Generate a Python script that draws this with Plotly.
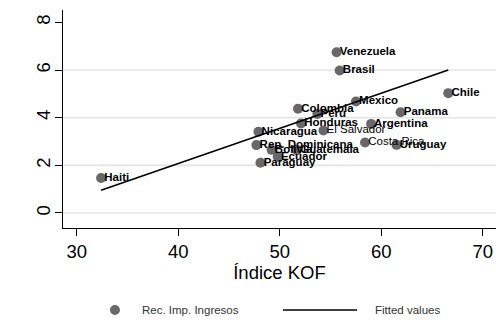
import plotly.graph_objects as go

countries = ["Haiti", "Venezuela", "Brasil", "Chile", "Mexico", "Panama", "Colombia",
             "Peru", "Honduras", "Argentina", "El Salvador", "Nicaragua",
             "Rep. Dominicana", "Costa Rica", "Uruguay", "Bolivia", "Guatemala",
             "Ecuador", "Paraguay"]
kof = [32.4, 55.6, 55.9, 66.6, 57.5, 61.9, 51.8, 53.7, 52.1, 59.0, 54.3, 47.9,
       47.7, 58.4, 61.5, 49.2, 51.7, 49.8, 48.1]
rec = [1.47, 6.75, 5.98, 5.03, 4.68, 4.23, 4.38, 4.16, 3.76, 3.74, 3.46, 3.41,
       2.85, 2.96, 2.86, 2.65, 2.64, 2.36, 2.11]
fit_x = [32.4, 66.6]
fit_y = [0.95, 6.0]
x_ticks = [30, 40, 50, 60, 70]
y_ticks = [0, 2, 4, 6, 8]
grid_y = [0, 2, 4, 6]
legend_names = ["Rec. Imp. Ingresos", "Fitted values"]

FONT = "Liberation Sans, Arial, sans-serif"
MARKER_COLOR = "#686868"
light = {"El Salvador", "Costa Rica"}

fig = go.Figure()
for yv in grid_y:
    fig.add_shape(type="line", xref="paper", x0=0, x1=1, yref="y", y0=yv, y1=yv,
                  line=dict(color="#e4e4e4", width=1.6), layer="below")

fig.add_trace(go.Scatter(x=kof, y=rec, mode="markers", name=legend_names[0],
                         marker=dict(color=MARKER_COLOR, size=10, line=dict(width=0)),
                         showlegend=False))
fig.add_trace(go.Scatter(x=fit_x, y=fit_y, mode="lines", name=legend_names[1],
                         line=dict(color="black", width=1.6), showlegend=False))

for names, weight in [([c for c in countries if c not in light], "bold"),
                      ([c for c in countries if c in light], "normal")]:
    idx = [countries.index(c) for c in names]
    fig.add_trace(go.Scatter(x=[kof[i] for i in idx], y=[rec[i] for i in idx],
                             text=[" " + n for n in names], mode="text",
                             textposition="middle right",
                             textfont=dict(family=FONT, size=11.5, color="black", weight=weight),
                             showlegend=False, hoverinfo="skip"))

# manual legend (below the plot)
LEG_Y = -0.376
fig.add_shape(type="circle", xref="paper", yref="paper",
              xsizemode="pixel", ysizemode="pixel", xanchor=0.120, yanchor=LEG_Y,
              x0=-5, x1=5, y0=-5, y1=5, fillcolor=MARKER_COLOR, line=dict(width=0))
fig.add_shape(type="line", xref="paper", yref="paper", x0=0.508, x1=0.679,
              y0=LEG_Y, y1=LEG_Y, line=dict(color="black", width=1.6))
fig.add_annotation(xref="paper", yref="paper", x=0.178, y=LEG_Y, text=legend_names[0],
                   showarrow=False, xanchor="left", yanchor="middle",
                   font=dict(size=11.5, color="#333"))
fig.add_annotation(xref="paper", yref="paper", x=0.716, y=LEG_Y, text=legend_names[1],
                   showarrow=False, xanchor="left", yanchor="middle",
                   font=dict(size=11.5, color="#333"))

fig.update_layout(
    width=496, height=322,
    margin=dict(l=63, r=0, t=10, b=94, autoexpand=False),
    plot_bgcolor="white", paper_bgcolor="white",
    font=dict(family=FONT, color="black"),
    showlegend=False,
    xaxis=dict(range=[28.65, 71.3], tickvals=x_ticks, ticks="outside", ticklen=7,
               tickcolor="black", showline=True, linecolor="black", linewidth=1,
               showgrid=False, zeroline=False, tickfont=dict(size=18.5),
               title=dict(text="Índice KOF", font=dict(size=18.5), standoff=0)),
    yaxis=dict(range=[-0.63, 8.52], tickvals=y_ticks, ticks="outside", ticklen=7,
               tickcolor="black", showline=True, linecolor="black", linewidth=1,
               showgrid=False, zeroline=False, tickangle=-90, tickfont=dict(size=18.5),
               ticklabelstandoff=-2),
)
fig.write_html("out.html")
